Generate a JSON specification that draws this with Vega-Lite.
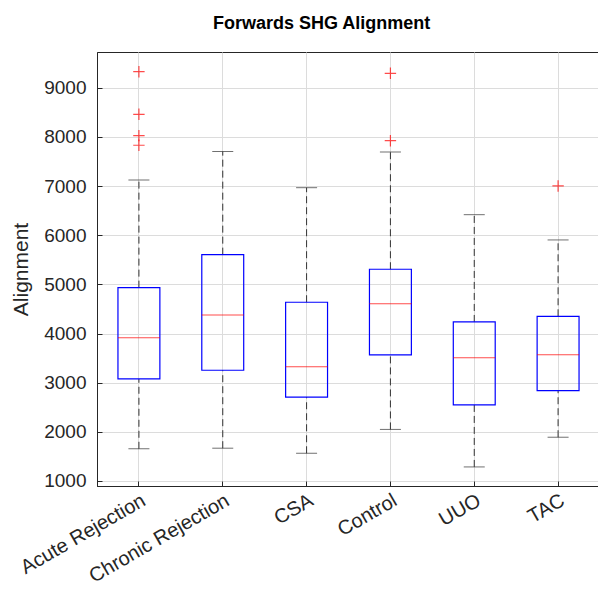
{
  "$schema": "https://vega.github.io/schema/vega-lite/v6.json",
  "width": 503,
  "height": 434,
  "autosize": "none",
  "padding": {"left": 97, "top": 52, "right": 0, "bottom": 108},
  "background": "white",
  "title": {
    "text": "Forwards SHG Alignment",
    "font": "Liberation Sans",
    "fontSize": 18,
    "fontWeight": "bold",
    "color": "#000000",
    "anchor": "start",
    "frame": "group",
    "dx": 116,
    "baseline": "alphabetic",
    "offset": 5
  },
  "config": {
    "view": {"stroke": "#262626", "strokeWidth": 1},
    "axis": {
      "labelFont": "Liberation Sans",
      "titleFont": "Liberation Sans",
      "labelColor": "#262626",
      "titleColor": "#262626",
      "domainColor": "#262626",
      "tickColor": "#262626",
      "gridColor": "#dcdcdc",
      "gridWidth": 1,
      "domainWidth": 1,
      "tickWidth": 1
    }
  },
  "datasets": {
    "stats": [
      {"group": "Acute Rejection", "lower": 1655, "q1": 3076, "median": 3916, "q3": 4933, "upper": 7123},
      {"group": "Chronic Rejection", "lower": 1667, "q1": 3252, "median": 4377, "q3": 5604, "upper": 7702},
      {"group": "CSA", "lower": 1564, "q1": 2704, "median": 3326, "q3": 4636, "upper": 6966},
      {"group": "Control", "lower": 2049, "q1": 3564, "median": 4607, "q3": 5307, "upper": 7692},
      {"group": "UUO", "lower": 1286, "q1": 2547, "median": 3509, "q3": 4235, "upper": 6417},
      {"group": "TAC", "lower": 1890, "q1": 2838, "median": 3570, "q3": 4350, "upper": 5903}
    ],
    "outliers": [
      {"group": "Acute Rejection", "value": 9325},
      {"group": "Acute Rejection", "value": 8459},
      {"group": "Acute Rejection", "value": 8024},
      {"group": "Acute Rejection", "value": 7829},
      {"group": "Control", "value": 9293},
      {"group": "Control", "value": 7922},
      {"group": "TAC", "value": 7001}
    ]
  },
  "encoding": {
    "x": {
      "field": "group", "type": "nominal", "sort": null,
      "scale": {"type": "band", "paddingInner": 0, "paddingOuter": 0},
      "axis": {
        "orient": "bottom", "title": null, "labelAngle": -30, "labelAlign": "right",
        "labelBaseline": "top", "labelFontSize": 20, "labelPadding": 9,
        "tickSize": -5, "grid": true, "domain": true
      }
    }
  },
  "layer": [
    {
      "data": {"name": "stats"},
      "mark": {"type": "rule", "strokeDash": [7, 4], "color": "#333333", "strokeWidth": 1},
      "encoding": {
        "y": {
          "field": "q3", "type": "quantitative",
          "scale": {"domain": [898, 9726], "nice": false, "zero": false},
          "axis": {
            "orient": "left", "title": "Alignment", "titleFontSize": 21, "titleFontWeight": "normal",
            "titlePadding": 12, "values": [1000, 2000, 3000, 4000, 5000, 6000, 7000, 8000, 9000],
            "format": "d", "labelFontSize": 19, "labelPadding": 16, "tickSize": -5, "grid": true, "domain": true
          }
        },
        "y2": {"field": "upper"}
      }
    },
    {
      "data": {"name": "stats"},
      "mark": {"type": "rule", "strokeDash": [7, 4], "color": "#333333", "strokeWidth": 1},
      "encoding": {
        "y": {"field": "lower", "type": "quantitative"},
        "y2": {"field": "q1"}
      }
    },
    {
      "data": {"name": "stats"},
      "mark": {"type": "tick", "color": "#333333", "size": 21, "thickness": 1, "orient": "horizontal"},
      "encoding": {
        "y": {"field": "upper", "type": "quantitative"}
      }
    },
    {
      "data": {"name": "stats"},
      "mark": {"type": "tick", "color": "#333333", "size": 21, "thickness": 1, "orient": "horizontal"},
      "encoding": {
        "y": {"field": "lower", "type": "quantitative"}
      }
    },
    {
      "data": {"name": "stats"},
      "mark": {"type": "bar", "fill": null, "fillOpacity": 0, "stroke": "#0000ff", "strokeWidth": 1.2, "width": {"band": 0.5}},
      "encoding": {
        "y": {"field": "q1", "type": "quantitative"},
        "y2": {"field": "q3"}
      }
    },
    {
      "data": {"name": "stats"},
      "mark": {"type": "tick", "color": "#ff0000", "size": 42, "thickness": 1, "orient": "horizontal"},
      "encoding": {
        "y": {"field": "median", "type": "quantitative"}
      }
    },
    {
      "data": {"name": "outliers"},
      "mark": {"type": "point", "shape": "M-1,0L1,0M0,-1L0,1", "filled": false, "stroke": "#ff0000", "strokeWidth": 1.2, "size": 130},
      "encoding": {
        "y": {"field": "value", "type": "quantitative"}
      }
    }
  ]
}
